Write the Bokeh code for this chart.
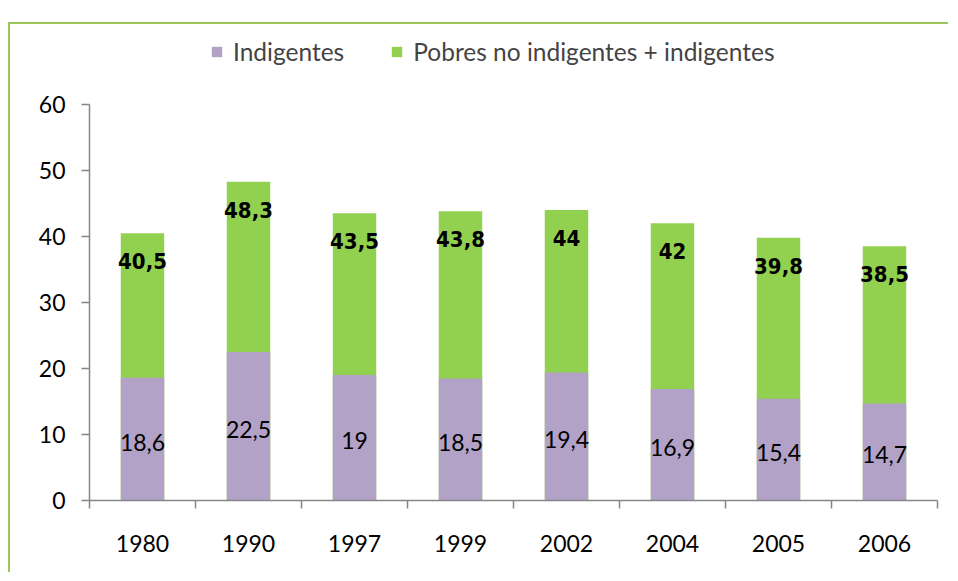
from bokeh.plotting import figure
from bokeh.models import (Range1d, FixedTicker, Legend, LegendItem, ColumnDataSource, LinearAxis)
from bokeh.core.properties import value
from bokeh.embed import file_html
from bokeh.resources import INLINE

years = ["1980", "1990", "1997", "1999", "2002", "2004", "2005", "2006"]
indigentes = [18.6, 22.5, 19, 18.5, 19.4, 16.9, 15.4, 14.7]
pobres_total = [40.5, 48.3, 43.5, 43.8, 44, 42, 39.8, 38.5]
y_ticks = [0, 10, 20, 30, 40, 50, 60]

PURPLE = "#B3A2C7"
GREEN = "#92D050"
FRAME = "#9BC75A"
AXIS = "#868686"
FONT = "Lato"
NARROW = "Liberation Sans Narrow, Arial Narrow, DejaVu Sans Condensed"

def fmt(v):
    return ("%g" % v).replace(".", ",")

xs = [i + 0.5 for i in range(len(years))]
src = ColumnDataSource(dict(
    x=xs,
    ind=indigentes,
    ind_half=[v / 2 for v in indigentes],
    tot=pobres_total,
    ind_lbl=[fmt(v) for v in indigentes],
    tot_lbl=[fmt(v) for v in pobres_total],
))

# y range extends above 60 so that the legend fits inside the frame; axis is bounded to 0..60
p = figure(width=940, height=550, output_backend="svg", toolbar_location=None,
           x_range=Range1d(0, len(years)), y_range=Range1d(0, 71.2),
           min_border_left=79, min_border_right=13, min_border_top=6, min_border_bottom=74)
p.styles = {"margin-left": "8px", "margin-top": "22px",
            "border-left": "2px solid " + FRAME, "border-top": "2px solid " + FRAME}
p.xaxis.visible = False
p.yaxis.visible = False
p.grid.visible = False
p.outline_line_color = None
p.background_fill_color = "white"
p.border_fill_color = "white"

g = p.vbar(x="x", top="tot", bottom=0, width=0.41, source=src, fill_color=GREEN, line_color=None)
pu = p.vbar(x="x", top="ind", bottom=0, width=0.41, source=src, fill_color=PURPLE, line_color=None)

p.text(x="x", y="tot", text="tot_lbl", source=src, text_align="center", text_baseline="middle",
       y_offset=28, text_font=value(NARROW), text_font_style="bold", text_font_size="22px",
       text_color="black")
p.text(x="x", y="ind_half", text="ind_lbl", source=src, text_align="center", text_baseline="middle",
       y_offset=3, text_font=value(FONT), text_font_size="23px", text_color="black")

yax = LinearAxis(ticker=FixedTicker(ticks=y_ticks), bounds=(0, 60))
yax.axis_line_color = AXIS
yax.axis_line_width = 1.5
yax.major_tick_line_color = AXIS
yax.major_tick_line_width = 1.5
yax.major_tick_out = 8
yax.major_tick_in = 0
yax.minor_tick_line_color = None
yax.major_label_standoff = 16
yax.major_label_text_font = FONT
yax.major_label_text_font_size = "23px"
yax.major_label_text_color = "black"
p.add_layout(yax, "left")

xax = LinearAxis(ticker=FixedTicker(ticks=xs, minor_ticks=list(range(len(years) + 1))))
xax.major_label_overrides = {x: y for x, y in zip(xs, years)}
xax.axis_line_color = AXIS
xax.axis_line_width = 1.5
xax.major_tick_line_color = None
xax.major_tick_out = 0
xax.major_tick_in = 0
xax.minor_tick_line_color = AXIS
xax.minor_tick_line_width = 1.5
xax.minor_tick_out = 8
xax.minor_tick_in = 0
xax.major_label_standoff = 26
xax.major_label_text_font = FONT
xax.major_label_text_font_size = "23px"
xax.major_label_text_color = "black"
p.add_layout(xax, "below")

legend = Legend(items=[LegendItem(label="Indigentes", renderers=[pu]),
                       LegendItem(label="Pobres no indigentes + indigentes", renderers=[g])],
                orientation="horizontal", location=(121, 434),
                label_text_font=FONT, label_text_font_size="24.5px",
                glyph_width=13, glyph_height=13, label_standoff=10, spacing=46,
                padding=0, margin=0, border_line_color=None, background_fill_alpha=0)
p.add_layout(legend, "center")

open("out.html", "w").write(file_html(p, INLINE))
